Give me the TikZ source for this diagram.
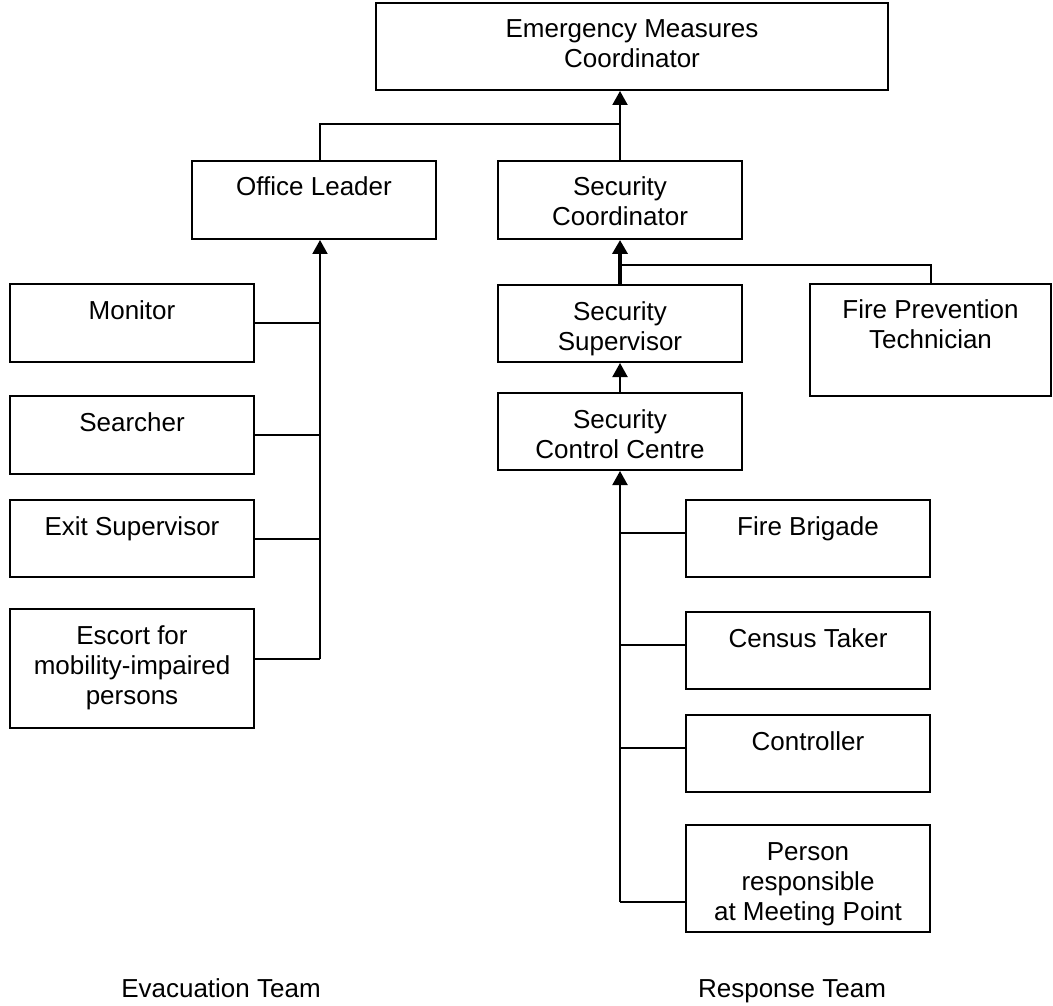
\documentclass[tikz,border=0pt]{standalone}
\usepackage{fontspec}
\setmainfont{Liberation Sans}
\usetikzlibrary{arrows.meta}

% box text: width, height, lines (set from the top of the box)
\newcommand{\unitbox}[3]{\parbox[c][#2][t]{#1}{\centering\rule{0pt}{17.5pt}#3}}

\begin{document}
\begin{tikzpicture}[x=0.5pt, y=-0.5pt,
    every node/.style={font=\fontsize{13}{15}\selectfont},
    unit/.style={draw, rectangle, line width=1pt, inner sep=0pt},
    link/.style={line width=1pt},
    >={Triangle[length=7pt,width=7.5pt]}]
            \useasboundingbox (0,0) rectangle (1053,1005);

            \node[unit] (emc) at (632,46.5) {\unitbox{256pt}{43.5pt}{Emergency Measures\\Coordinator}};
            \node[unit] (office) at (314,200) {\unitbox{122pt}{39pt}{Office Leader}};
            \node[unit] (secco) at (620,200) {\unitbox{122pt}{39pt}{Security\\Coordinator}};

            % evacuation side
            \node[unit] (monitor) at (132,323) {\unitbox{122pt}{39pt}{Monitor}};
            \node[unit] (searcher) at (132,435) {\unitbox{122pt}{39pt}{Searcher}};
            \node[unit] (exitsup) at (132,538.5) {\unitbox{122pt}{38.5pt}{Exit Supervisor}};
            \node[unit] (escort) at (132,668.5) {\unitbox{122pt}{59.5pt}{Escort for\\mobility-impaired\\persons}};

            % response side
            \node[unit] (secsup) at (620,323.5) {\unitbox{122pt}{38.5pt}{Security\\Supervisor}};
            \node[unit] (firetech) at (930.5,340) {\unitbox{120.5pt}{56pt}{Fire Prevention\\Technician}};
            \node[unit] (scc) at (620,431.5) {\unitbox{122pt}{38.5pt}{Security\\Control Centre}};
            \node[unit] (brigade) at (808,538.5) {\unitbox{122pt}{38.5pt}{Fire Brigade}};
            \node[unit] (census) at (808,650.5) {\unitbox{122pt}{38.5pt}{Census Taker}};
            \node[unit] (controller) at (808,753.5) {\unitbox{122pt}{38.5pt}{Controller}};
            \node[unit] (person) at (808,878.5) {\unitbox{122pt}{53.5pt}{Person\\responsible\\at Meeting Point}};

            \node[anchor=base] (evacteam) at (221,997) {Evacuation Team};
            \node[anchor=base] (respteam) at (792,997) {Response Team};

            \coordinate (top) at (320,124);
            \coordinate (evac) at (320,659);
            \coordinate (fork) at (620,265);
            \coordinate (resp) at (620,902);

            \draw[link] (top |- office.north) -- (top) -- (top -| secco.north);
            \draw[link,->] (secco.north) -- (secco.north |- emc.south);

            \draw[link,->] (evac) -- (evac |- office.south);
            \foreach \n in {monitor,searcher,exitsup}
                \draw[link] (\n.east) -- (\n.east -| evac);
            \draw[link] (escort.east |- evac) -- (evac);

            \draw[link,line width=2pt,->] (secsup.north) -- (secco.south);
            \draw[link] (fork) -| (firetech.north);
            \draw[link,->] (scc.north) -- (secsup.south);

            \draw[link,->] (resp) -- (scc.south);
            \foreach \n in {brigade,census,controller}
                \draw[link] ([yshift=3pt]\n.west) -- ([yshift=3pt]\n.west -| resp);
            \draw[link] (person.west |- resp) -- (resp);
        \end{tikzpicture}
\end{document}
